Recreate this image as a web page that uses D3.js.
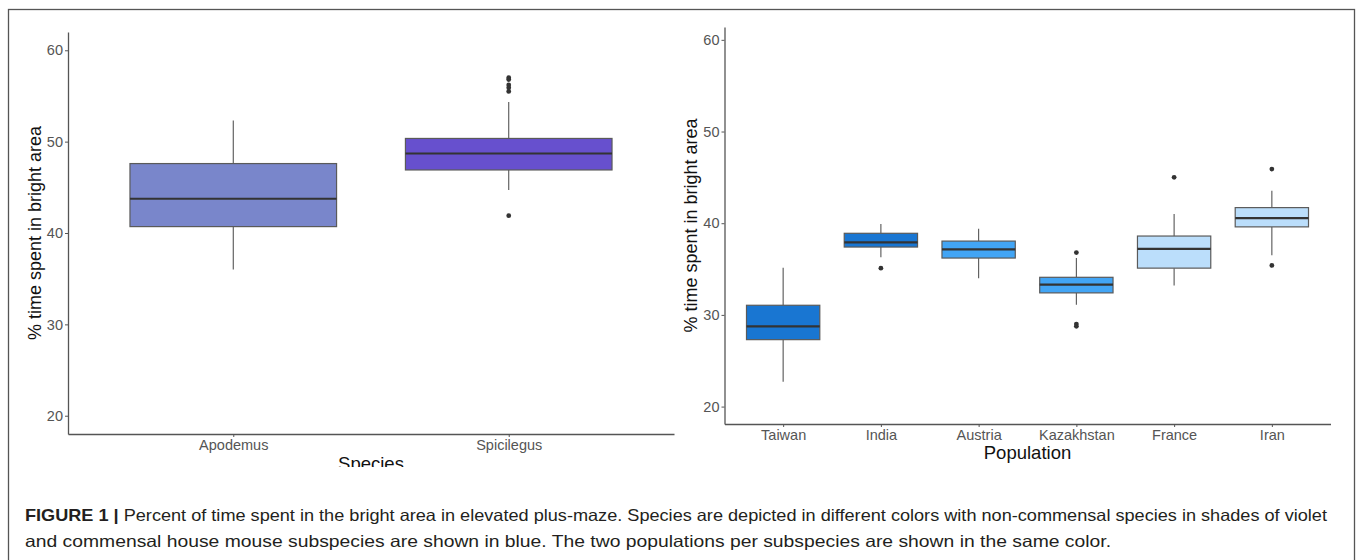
<!DOCTYPE html>
<html>
<head>
<meta charset="utf-8">
<script src="https://cdn.jsdelivr.net/npm/d3@7"></script>
<style>
  body { margin: 0; background: #fff; }
  svg { display: block; font-family: "Liberation Sans", Arial, sans-serif; }
</style>
</head>
<body>
<div id="chart"></div>
<script>
// left panel: species
const species = ['Apodemus', 'Spicilegus'];
const speciesLow = [36.0, 44.7];
const speciesQ1 = [40.7, 46.9];
const speciesMedian = [43.75, 48.7];
const speciesQ3 = [47.6, 50.35];
const speciesHigh = [52.3, 54.35];
const speciesOutliers = [[], [57.0, 56.8, 56.2, 55.9, 55.5, 41.9]];
const speciesColors = ['#7986CB', '#6750CE'];

// right panel: populations
const populations = ['Taiwan', 'India', 'Austria', 'Kazakhstan', 'France', 'Iran'];
const popLow = [22.7, 36.3, 34.0, 31.1, 33.2, 36.5];
const popQ1 = [27.3, 37.4, 36.2, 32.4, 35.1, 39.6];
const popMedian = [28.75, 37.9, 37.15, 33.3, 37.2, 40.55];
const popQ3 = [31.05, 38.9, 38.05, 34.1, 38.6, 41.7];
const popHigh = [35.15, 39.9, 39.4, 36.2, 41.0, 43.55];
const popOutliers = [[], [35.1], [], [36.8, 29.0, 28.75], [45.0], [45.9, 35.4]];
const popColors = ['#1976D2', '#1976D2', '#42A5F5', '#42A5F5', '#BBDEFB', '#BBDEFB'];

const yTicks = [20, 30, 40, 50, 60];

const width = 1357, height = 560;

const svg = d3.select('#chart').append('svg')
    .attr('width', width)
    .attr('height', height);

svg.append('rect')
    .attr('width', width).attr('height', height)
    .attr('fill', '#fff');

// outer frame of the figure
svg.append('rect')
    .attr('x', 8.5).attr('y', 9.5)
    .attr('width', 1346).attr('height', 560)
    .attr('fill', 'none')
    .attr('stroke', '#555')
    .attr('stroke-width', 1.3);

function drawPanel(cfg) {
    const g = svg.append('g');
    if (cfg.clip) {
        svg.append('clipPath').attr('id', cfg.id + '-clip')
            .append('rect')
            .attr('x', cfg.left - 80).attr('y', 0)
            .attr('width', cfg.right - cfg.left + 90).attr('height', cfg.clip);
        g.attr('clip-path', `url(#${cfg.id}-clip)`);
    }

    const x = d3.scalePoint()
        .domain(cfg.names)
        .range([cfg.left, cfg.right])
        .padding(0.6);
    const y = d3.scaleLinear()
        .domain(cfg.yDomain)
        .range([cfg.bottom, cfg.top]);
    const bw = x.step() * 0.75;

    const rows = cfg.names.map((name, i) => ({
        name,
        low: cfg.low[i], q1: cfg.q1[i], med: cfg.median[i],
        q3: cfg.q3[i], high: cfg.high[i],
        out: cfg.outliers[i], color: cfg.colors[i]
    }));

    const box = g.selectAll('g.box').data(rows).enter()
        .append('g').attr('class', 'box');

    box.append('line')
        .attr('x1', d => x(d.name)).attr('x2', d => x(d.name))
        .attr('y1', d => y(d.high)).attr('y2', d => y(d.q3))
        .attr('stroke', '#555').attr('stroke-width', 1.1);
    box.append('line')
        .attr('x1', d => x(d.name)).attr('x2', d => x(d.name))
        .attr('y1', d => y(d.q1)).attr('y2', d => y(d.low))
        .attr('stroke', '#555').attr('stroke-width', 1.1);
    box.append('rect')
        .attr('x', d => x(d.name) - bw / 2)
        .attr('y', d => y(d.q3))
        .attr('width', bw)
        .attr('height', d => y(d.q1) - y(d.q3))
        .attr('fill', d => d.color)
        .attr('stroke', '#5a5a5a')
        .attr('stroke-width', 1.2);
    box.append('line')
        .attr('x1', d => x(d.name) - bw / 2).attr('x2', d => x(d.name) + bw / 2)
        .attr('y1', d => y(d.med)).attr('y2', d => y(d.med))
        .attr('stroke', '#333').attr('stroke-width', 2.2);
    box.selectAll('circle')
        .data(d => d.out.map(v => ({ name: d.name, v })))
        .enter().append('circle')
        .attr('cx', d => x(d.name))
        .attr('cy', d => y(d.v))
        .attr('r', 2.4)
        .attr('fill', '#333');

    // axes
    const yAxis = g.append('g')
        .attr('transform', `translate(${cfg.left},0)`)
        .call(d3.axisLeft(y).tickValues(yTicks).tickSize(3).tickPadding(2).tickSizeOuter(0));
    const xAxis = g.append('g')
        .attr('transform', `translate(0,${cfg.bottom})`)
        .call(d3.axisBottom(x).tickSize(3).tickPadding(cfg.xPad).tickSizeOuter(0));

    [yAxis, xAxis].forEach(ax => {
        ax.select('.domain').attr('stroke', '#555').attr('stroke-width', 1.3);
        ax.selectAll('.tick line').attr('stroke', '#555');
        ax.selectAll('.tick text')
            .attr('fill', '#555')
            .style('font-size', '14.5px')
            .style('font-family', '"Liberation Sans", Arial, sans-serif');
    });

    g.append('text')
        .attr('transform', `translate(${cfg.yTitleX},${(cfg.top + cfg.bottom) / 2}) rotate(-90)`)
        .attr('text-anchor', 'middle')
        .style('font-size', '18px')
        .attr('fill', '#111')
        .text('% time spent in bright area');

    g.append('text')
        .attr('x', (cfg.left + cfg.right) / 2)
        .attr('y', cfg.xTitleY)
        .attr('text-anchor', 'middle')
        .style('font-size', '18.5px')
        .attr('fill', '#111')
        .text(cfg.xTitle);
}

drawPanel({
    id: 'species', names: species,
    low: speciesLow, q1: speciesQ1, median: speciesMedian, q3: speciesQ3,
    high: speciesHigh, outliers: speciesOutliers, colors: speciesColors,
    left: 68, right: 674, top: 32, bottom: 434, yDomain: [18, 62],
    xPad: 3, yTitleX: 41, xTitle: 'Species', xTitleY: 470, clip: 467
});

drawPanel({
    id: 'pop', names: populations,
    low: popLow, q1: popQ1, median: popMedian, q3: popQ3,
    high: popHigh, outliers: popOutliers, colors: popColors,
    left: 724.5, right: 1330.5, top: 27, bottom: 424, yDomain: [18.1, 61.4],
    xPad: 3, yTitleX: 697, xTitle: 'Population', xTitleY: 459
});

// caption
const caption = svg.append('g')
    .style('font-size', '16.5px')
    .attr('fill', '#231f20');
const line1 = caption.append('text').attr('x', 25).attr('y', 521)
    .attr('textLength', 1302).attr('lengthAdjust', 'spacingAndGlyphs');
line1.append('tspan').style('font-weight', 'bold').text('FIGURE 1 |');
line1.append('tspan').text(' Percent of time spent in the bright area in elevated plus-maze. Species are depicted in different colors with non-commensal species in shades of violet');
caption.append('text').attr('x', 25).attr('y', 547)
    .attr('textLength', 1086).attr('lengthAdjust', 'spacingAndGlyphs')
    .text('and commensal house mouse subspecies are shown in blue. The two populations per subspecies are shown in the same color.');
</script>
</body>
</html>
